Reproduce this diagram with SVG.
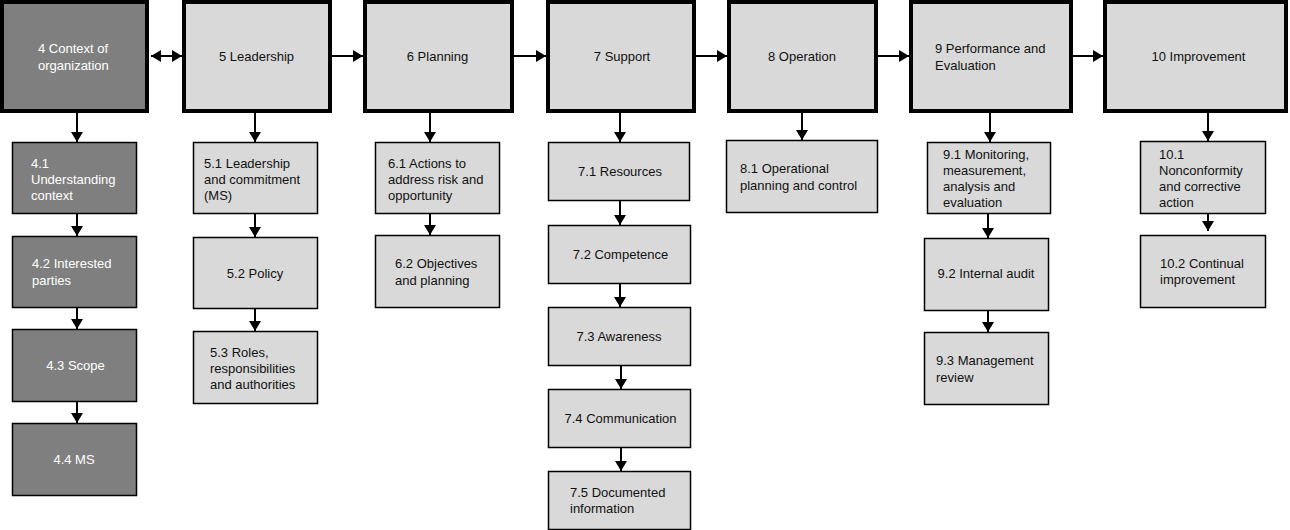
<svg xmlns="http://www.w3.org/2000/svg" width="1290" height="530" viewBox="0 0 1290 530">
<style>
text{font-family:"Liberation Sans",Arial,sans-serif;font-size:13px;fill:#111}
.top{fill:#d9d9d9;stroke:#000;stroke-width:4}
.topd{fill:#7f7f7f;stroke:#000;stroke-width:4}
.sub{fill:#d9d9d9;stroke:#000;stroke-width:1.5}
.subd{fill:#7f7f7f;stroke:#000;stroke-width:1.5}
.w{fill:#fff}
.c{text-anchor:middle}
.con line{stroke:#000;stroke-width:2;marker-end:url(#ah)}
</style>
<defs>
<marker id="ah" viewBox="0 0 10 12" refX="10" refY="6" markerWidth="10" markerHeight="12" markerUnits="userSpaceOnUse" orient="auto-start-reverse">
<path d="M0,0 L10,6 L0,12 z" fill="#000"/>
</marker>
</defs>
<rect width="1290" height="530" fill="#fff"/>
<g id="connectors" class="con">
<line x1="151" y1="56" x2="182" y2="56" style="marker-start:url(#ah)"/>
<line x1="332" y1="56" x2="363" y2="56"/>
<line x1="514" y1="56" x2="546" y2="56"/>
<line x1="696" y1="56" x2="727" y2="56"/>
<line x1="878" y1="56" x2="909" y2="56"/>
<line x1="1073" y1="56" x2="1103" y2="56"/>
<line x1="77" y1="113" x2="77" y2="142"/>
<line x1="77" y1="214" x2="77" y2="236"/>
<line x1="77" y1="307" x2="77" y2="329"/>
<line x1="77" y1="402" x2="77" y2="423"/>
<line x1="255" y1="113" x2="255" y2="142"/>
<line x1="255" y1="214" x2="255" y2="237"/>
<line x1="255" y1="309" x2="255" y2="331"/>
<line x1="430" y1="113" x2="430" y2="142"/>
<line x1="430" y1="214" x2="430" y2="235"/>
<line x1="620" y1="113" x2="620" y2="142"/>
<line x1="620" y1="200" x2="620" y2="225"/>
<line x1="620" y1="283" x2="620" y2="307"/>
<line x1="621" y1="365" x2="621" y2="389"/>
<line x1="621" y1="447" x2="621" y2="471"/>
<line x1="802" y1="113" x2="802" y2="140"/>
<line x1="990" y1="113" x2="990" y2="142"/>
<line x1="988" y1="214" x2="988" y2="238"/>
<line x1="988" y1="310" x2="988" y2="332"/>
<line x1="1208" y1="108" x2="1208" y2="141"/>
<line x1="1208" y1="210" x2="1208" y2="231"/>
</g>
<g id="n4"><rect class="topd" x="2" y="2" width="145" height="109"/><text class="w" x="38" y="53">4 Context of</text><text class="w" x="38" y="70">organization</text></g>
<g id="n5"><rect class="top" x="184" y="2" width="146" height="109"/><text class="c" x="256.5" y="61">5 Leadership</text></g>
<g id="n6"><rect class="top" x="365" y="2" width="147" height="109"/><text class="c" x="437.5" y="61">6 Planning</text></g>
<g id="n7"><rect class="top" x="548" y="2" width="146" height="109"/><text class="c" x="622" y="61">7 Support</text></g>
<g id="n8"><rect class="top" x="729" y="2" width="147" height="109"/><text class="c" x="802" y="61">8 Operation</text></g>
<g id="n9"><rect class="top" x="911" y="2" width="160" height="109"/><text x="935" y="53">9 Performance and</text><text x="935" y="70">Evaluation</text></g>
<g id="n10"><rect class="top" x="1105" y="2" width="181" height="109"/><text class="c" x="1198.5" y="61">10 Improvement</text></g>
<g id="n4_1"><rect class="subd" x="12.5" y="142.5" width="124" height="71"/><text class="w" x="31" y="167.5">4.1</text><text class="w" x="31" y="184">Understanding</text><text class="w" x="31" y="200">context</text></g>
<g id="n4_2"><rect class="subd" x="12.5" y="236.5" width="124" height="71"/><text class="w" x="32" y="268">4.2 Interested</text><text class="w" x="32" y="285">parties</text></g>
<g id="n4_3"><rect class="subd" x="12.5" y="329.5" width="124" height="72"/><text class="w c" x="75.5" y="370">4.3 Scope</text></g>
<g id="n4_4"><rect class="subd" x="12.5" y="423.5" width="124" height="72"/><text class="w c" x="74" y="464">4.4 MS</text></g>
<g id="n5_1"><rect class="sub" x="193.5" y="142.5" width="124" height="71"/><text x="204" y="167.5">5.1 Leadership</text><text x="204" y="184">and commitment</text><text x="204" y="200">(MS)</text></g>
<g id="n5_2"><rect class="sub" x="193.5" y="237.5" width="124" height="71"/><text class="c" x="255" y="278">5.2 Policy</text></g>
<g id="n5_3"><rect class="sub" x="193.5" y="331.5" width="124" height="72"/><text x="210" y="357">5.3 Roles,</text><text x="210" y="373">responsibilities</text><text x="210" y="389">and authorities</text></g>
<g id="n6_1"><rect class="sub" x="375.5" y="142.5" width="124" height="71"/><text x="388" y="167.5">6.1 Actions to</text><text x="388" y="184">address risk and</text><text x="388" y="200">opportunity</text></g>
<g id="n6_2"><rect class="sub" x="375.5" y="235.5" width="124" height="72"/><text x="395" y="268">6.2 Objectives</text><text x="395" y="285">and planning</text></g>
<g id="n7_1"><rect class="sub" x="548.5" y="142.5" width="141" height="58"/><text class="c" x="620" y="176">7.1 Resources</text></g>
<g id="n7_2"><rect class="sub" x="548.5" y="225.5" width="142" height="58"/><text class="c" x="620.5" y="259">7.2 Competence</text></g>
<g id="n7_3"><rect class="sub" x="548.5" y="307.5" width="142" height="58"/><text class="c" x="619" y="341">7.3 Awareness</text></g>
<g id="n7_4"><rect class="sub" x="548.5" y="389.5" width="142" height="58"/><text class="c" x="620.5" y="423">7.4 Communication</text></g>
<g id="n7_5"><rect class="sub" x="548.5" y="471.5" width="142" height="58"/><text x="570" y="496.5">7.5 Documented</text><text x="570" y="513">information</text></g>
<g id="n8_1"><rect class="sub" x="726.5" y="140.5" width="151" height="72"/><text x="740" y="172.5">8.1 Operational</text><text x="740" y="189.5">planning and control</text></g>
<g id="n9_1"><rect class="sub" x="927.5" y="142.5" width="123" height="71"/><text x="943" y="158.5">9.1 Monitoring,</text><text x="943" y="174.5">measurement,</text><text x="943" y="190.5">analysis and</text><text x="943" y="206.5">evaluation</text></g>
<g id="n9_2"><rect class="sub" x="924.5" y="238.5" width="124" height="72"/><text class="c" x="986" y="278">9.2 Internal audit</text></g>
<g id="n9_3"><rect class="sub" x="924.5" y="332.5" width="124" height="72"/><text x="936" y="364.5">9.3 Management</text><text x="936" y="381.5">review</text></g>
<g id="n10_1"><rect class="sub" x="1140.5" y="141.5" width="125" height="72"/><text x="1159" y="158.5">10.1</text><text x="1159" y="174.5">Nonconformity</text><text x="1159" y="190.5">and corrective</text><text x="1159" y="206.5">action</text></g>
<g id="n10_2"><rect class="sub" x="1140.5" y="235.5" width="125" height="72"/><text x="1160" y="267.5">10.2 Continual</text><text x="1160" y="283.5">improvement</text></g>
</svg>
